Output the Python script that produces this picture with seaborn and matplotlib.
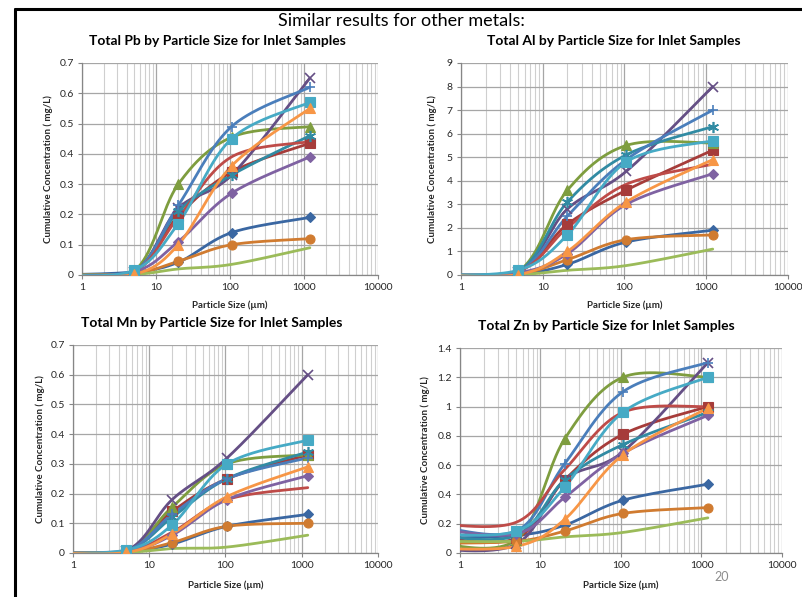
import numpy as np
import pandas as pd
import matplotlib
matplotlib.use("Agg")
import matplotlib.pyplot as plt
import seaborn as sns
from matplotlib.lines import Line2D

# ---------------- data ----------------
sizes = [0.45, 5, 20, 105, 1200]          # particle size (um); first point lies left of the axis
x_ticks = [1, 10, 100, 1000, 10000]
x_tick_labels = ["1", "10", "100", "1000", "10000"]

series_names = ["S1", "S2", "S3", "S4", "S5", "S6", "S7", "S8", "S9", "S10", "S11", "S12"]

pb = {
    "S1": [0.0, 0.010, 0.042, 0.14, 0.19],
    "S2": [0.0, 0.010, 0.195, 0.34, 0.435],
    "S3": [0.0, 0.012, 0.30, 0.455, 0.49],
    "S4": [0.0, 0.010, 0.22, 0.33, 0.65],
    "S5": [0.0, 0.010, 0.21, 0.33, 0.46],
    "S6": [0.0, 0.005, 0.045, 0.10, 0.12],
    "S7": [0.0, 0.010, 0.23, 0.49, 0.62],
    "S8": [0.0, 0.010, 0.19, 0.39, 0.44],
    "S9": [0.0, 0.002, 0.02, 0.035, 0.09],
    "S10": [0.0, 0.010, 0.11, 0.27, 0.39],
    "S11": [0.0, 0.015, 0.17, 0.45, 0.57],
    "S12": [0.0, 0.002, 0.10, 0.36, 0.55],
}
al = {
    "S1": [0.0, 0.05, 0.45, 1.40, 1.90],
    "S2": [0.0, 0.15, 2.15, 3.60, 5.30],
    "S3": [0.0, 0.15, 3.60, 5.50, 5.60],
    "S4": [0.0, 0.12, 2.80, 4.40, 8.00],
    "S5": [0.0, 0.15, 3.10, 5.10, 6.30],
    "S6": [0.0, 0.05, 0.65, 1.50, 1.70],
    "S7": [0.0, 0.15, 2.50, 4.90, 7.00],
    "S8": [0.0, 0.15, 2.00, 3.85, 4.70],
    "S9": [0.0, 0.02, 0.20, 0.40, 1.10],
    "S10": [0.0, 0.10, 0.90, 3.00, 4.30],
    "S11": [0.0, 0.20, 1.70, 4.80, 5.70],
    "S12": [0.0, 0.02, 1.00, 3.10, 4.90],
}
mn = {
    "S1": [0.0, 0.005, 0.030, 0.090, 0.13],
    "S2": [0.0, 0.008, 0.140, 0.250, 0.33],
    "S3": [0.0, 0.008, 0.155, 0.300, 0.33],
    "S4": [0.0, 0.008, 0.180, 0.320, 0.60],
    "S5": [0.0, 0.008, 0.120, 0.250, 0.34],
    "S6": [0.0, 0.004, 0.035, 0.090, 0.10],
    "S7": [0.0, 0.008, 0.130, 0.250, 0.32],
    "S8": [0.0, 0.006, 0.070, 0.180, 0.22],
    "S9": [0.0, 0.002, 0.015, 0.020, 0.06],
    "S10": [0.0, 0.006, 0.060, 0.180, 0.26],
    "S11": [0.0, 0.010, 0.095, 0.300, 0.38],
    "S12": [0.0, 0.002, 0.065, 0.190, 0.29],
}
zn = {
    "S1": [0.10, 0.12, 0.19, 0.36, 0.47],
    "S2": [0.11, 0.10, 0.50, 0.81, 1.00],
    "S3": [0.07, 0.09, 0.78, 1.20, 1.20],
    "S4": [0.025, 0.06, 0.50, 0.69, 1.30],
    "S5": [0.12, 0.12, 0.50, 0.74, 0.96],
    "S6": [0.065, 0.08, 0.15, 0.27, 0.31],
    "S7": [0.19, 0.15, 0.61, 1.10, 1.30],
    "S8": [0.20, 0.21, 0.57, 0.96, 1.00],
    "S9": [0.08, 0.08, 0.11, 0.14, 0.24],
    "S10": [0.17, 0.13, 0.38, 0.68, 0.94],
    "S11": [0.13, 0.15, 0.45, 0.96, 1.20],
    "S12": [0.03, 0.045, 0.23, 0.67, 0.99],
}

panel_titles = [
    "Total Pb by Particle Size for Inlet Samples",
    "Total Al by Particle Size for Inlet Samples",
    "Total Mn by Particle Size for Inlet Samples",
    "Total Zn by Particle Size for Inlet Samples",
]
panel_data = [pb, al, mn, zn]
y_limits = [(0, 0.7, 0.1), (0, 9, 1), (0, 0.7, 0.1), (0, 1.4, 0.2)]

# ---------------- styles ----------------
colors = {
    "S1": "#3A67A2", "S2": "#A63C3A", "S3": "#7E9D3F", "S4": "#654F85",
    "S5": "#318BA3", "S6": "#D07B30", "S7": "#4A7EBB", "S8": "#BE4B48",
    "S9": "#9BBB59", "S10": "#7F62A2", "S11": "#46AAC5", "S12": "#F79646",
}
markers = {
    "S1": "D", "S2": "s", "S3": "^", "S4": "x", "S5": (6, 2, 0), "S6": "o",
    "S7": "+", "S8": None, "S9": None, "S10": "D", "S11": "s", "S12": "^",
}
msize = {"D": 5, "s": 6.5, "^": 6.5, "x": 7, "o": 6.5, "+": 7}

sns.set_style("white")
plt.rcParams["font.family"] = ["Lato", "DejaVu Sans"]


def smooth(xs, ys, n=40):
    """Excel-like smoothed line: Catmull-Rom Bezier in (log x, y) space."""
    P = np.column_stack([np.log10(xs), ys]).astype(float)
    out = []
    t = np.linspace(0, 1, n)[:, None]
    for i in range(len(P) - 1):
        p0 = P[i - 1] if i > 0 else P[i]
        p1, p2 = P[i], P[i + 1]
        p3 = P[i + 2] if i + 2 < len(P) else P[i + 1]
        c1 = p1 + (p2 - p0) / 6.0
        c2 = p2 - (p3 - p1) / 6.0
        seg = (1 - t) ** 3 * p1 + 3 * (1 - t) ** 2 * t * c1 + 3 * (1 - t) * t ** 2 * c2 + t ** 3 * p2
        out.append(seg if i == 0 else seg[1:])
    out = np.vstack(out)
    return 10 ** out[:, 0], out[:, 1]


W, H = 803, 597
fig = plt.figure(figsize=(W / 100, H / 100), dpi=100)

# axes boxes in pixels: left, top, right, bottom
boxes = [(82, 63, 378, 275), (461, 63, 788, 275), (73, 345, 378, 553), (460, 348, 782, 553)]
title_pos = [(217, 41), (614, 41), (212, 323), (606, 326)]
ylabel_x = [48, 432, 40, 425]
xlabel_y = [305, 305, 585, 585]

for k, ((l, t, r, b), data) in enumerate(zip(boxes, panel_data)):
    ax = fig.add_axes([l / W, 1 - b / H, (r - l) / W, (b - t) / H])
    ax.set_xscale("log")
    for name in series_names:
        ys = data[name]
        sx, sy = smooth(sizes, ys)
        df = pd.DataFrame({"x": sx, "y": sy})
        sns.lineplot(data=df, x="x", y="y", sort=False, estimator=None, ax=ax,
                     color=colors[name], linewidth=2.0, zorder=3)
        m = markers[name]
        if m is not None:
            if isinstance(m, tuple):
                ms, mew, mfc = 8, 1.2, "none"
            elif m in ("x", "+"):
                ms, mew, mfc = msize[m], 1.2, "none"
            else:
                ms, mew, mfc = msize[m], 0.8, colors[name]
            ax.plot(sizes, ys, linestyle="none", marker=m, markersize=ms,
                    markeredgewidth=mew, color=colors[name], markerfacecolor=mfc,
                    zorder=4)
    y0, y1, ys_ = y_limits[k]
    ax.set_xlim(1, 10000)
    ax.set_ylim(y0, y1)
    yt = np.arange(y0, y1 + ys_ / 2, ys_)
    ax.set_yticks(yt)
    ax.set_yticklabels([f"{round(v, 2):g}" for v in yt])
    ax.set_xticks(x_ticks)
    ax.set_xticklabels(x_tick_labels)
    ax.xaxis.set_minor_locator(matplotlib.ticker.LogLocator(base=10, subs=np.arange(2, 10)))
    ax.xaxis.set_minor_formatter(matplotlib.ticker.NullFormatter())
    ax.grid(True, which="major", axis="both", color="#A6A6A6", linewidth=0.9)
    ax.grid(True, which="minor", axis="x", color="#CFCFCF", linewidth=0.8)
    ax.set_axisbelow(True)
    for s in ["top", "right"]:
        ax.spines[s].set_visible(False)
    for s in ["left", "bottom"]:
        ax.spines[s].set_color("#868686")
        ax.spines[s].set_linewidth(0.9)
    ax.tick_params(axis="both", which="major", direction="out", length=3, width=0.8,
                   color="#868686", labelsize=7.5, labelcolor="#262626", pad=3,
                   bottom=True, left=True)
    ax.tick_params(axis="x", which="minor", length=0)
    ax.set_xlabel("")
    ax.set_ylabel("")
    # texts
    tx, ty = title_pos[k]
    fig.text(tx / W, 1 - ty / H, panel_titles[k], ha="center", va="center",
             fontsize=10, fontweight="bold", color="#000000")
    fig.text(ylabel_x[k] / W, 1 - ((t + b) / 2) / H, "Cumulative Concentration ( mg/L)",
             rotation=90, ha="center", va="center", fontsize=7, fontweight="bold")
    fig.text(((l + r) / 2) / W, 1 - xlabel_y[k] / H, "Particle Size (µm)",
             ha="center", va="center", fontsize=7, fontweight="bold")

fig.text(401 / W, 1 - 26 / H, "Similar results for other metals:", ha="center",
         va="baseline", fontsize=13, color="#000000")
fig.text(722 / W, 1 - 577 / H, "20", ha="center", va="center", fontsize=9, color="#8C8C8C")

# slide frame lines (left and top)
fig.add_artist(Line2D([15 / W, 15 / W], [0, 1 - 9 / H], color="black", linewidth=2.2))
fig.add_artist(Line2D([15 / W, 1], [1 - 9 / H, 1 - 9 / H], color="black", linewidth=2.2))

fig.savefig("out.png", dpi=100)
